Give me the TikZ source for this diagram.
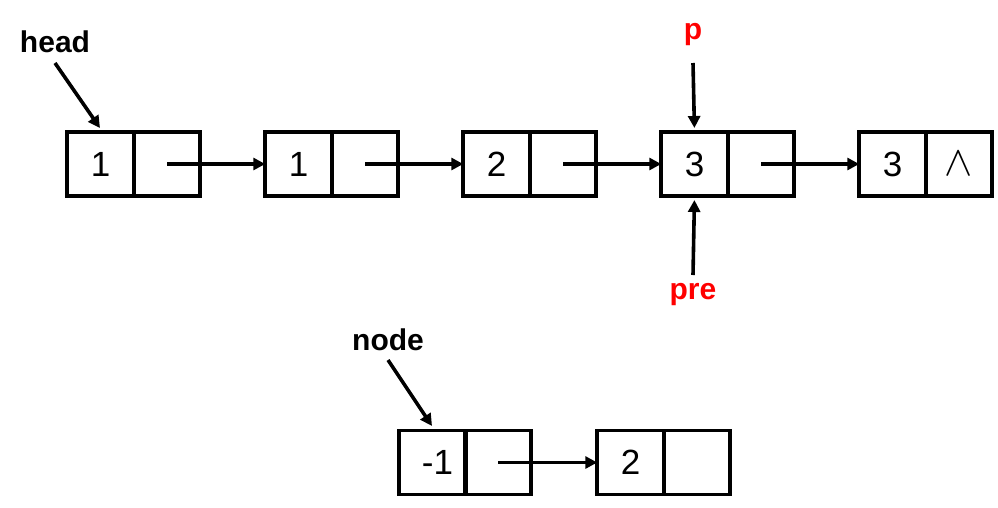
\documentclass[tikz,border=0pt]{standalone}
\usepackage{fontspec}
\setmainfont{Liberation Sans}
\usetikzlibrary{arrows.meta}
\begin{document}
\begin{tikzpicture}[x=1pt,y=-1pt,
  cell/.style={draw,line width=3.6pt,minimum width=66.5pt,minimum height=64pt,inner sep=0pt,outer sep=0pt,font=\fontsize{35}{40}\selectfont},
  arr/.style={line width=3.6pt,-{Triangle[length=12pt,width=12pt]}},
  lab/.style={font=\fontsize{30}{34}\selectfont\bfseries,inner sep=1pt},
  redlab/.style={lab,text=red}]
\useasboundingbox (0,0) rectangle (998,507);
% top row
\node[cell] (d1) at (100.5,164) {1};
\node[cell] (n1) at (167,164) {};
\node[cell] (d2) at (298.5,164) {1};
\node[cell] (n2) at (365,164) {};
\node[cell] (d3) at (496.5,164) {2};
\node[cell] (n3) at (563,164) {};
\node[cell] (d4) at (694.5,164) {3};
\node[cell] (n4) at (761,164) {};
\node[cell] (d5) at (892.5,164) {3};
\node[cell] (n5) at (959,164) {\scalebox{1.7}{$\wedge$}};
\draw[arr] (n1.center) -- (d2.west);
\draw[arr] (n2.center) -- (d3.west);
\draw[arr] (n3.center) -- (d4.west);
\draw[arr] (n4.center) -- (d5.west);
% labels
\node[lab] (head) at (55,42) {head};
\coordinate (headstart) at (55,63);
\coordinate (headtip) at (100,128);
\draw[arr] (headstart) -- (headtip);
\node[redlab] (p) at (693,35) {p};
\coordinate (pstart) at (693,63);
\draw[arr,shorten >=4pt] (pstart) -- (d4.north);
\node[redlab] (pre) at (693,295) {pre};
\coordinate (prestart) at (693,275);
\draw[arr,shorten >=4pt] (prestart) -- (d4.south);
% bottom
\node[cell] (b1) at (432.5,462.5) {\hspace{10pt}-1};
\node[cell] (m1) at (498,462.5) {};
\node[cell] (b2) at (630.5,462.5) {2};
\node[cell] (m2) at (697,462.5) {};
\draw[arr] (m1.center) -- (b2.west);
\node[lab] (nodelab) at (388,340) {node};
\coordinate (nodestart) at (388,360);
\coordinate (nodetip) at (432,426);
\draw[arr] (nodestart) -- (nodetip);
\end{tikzpicture}
\end{document}
